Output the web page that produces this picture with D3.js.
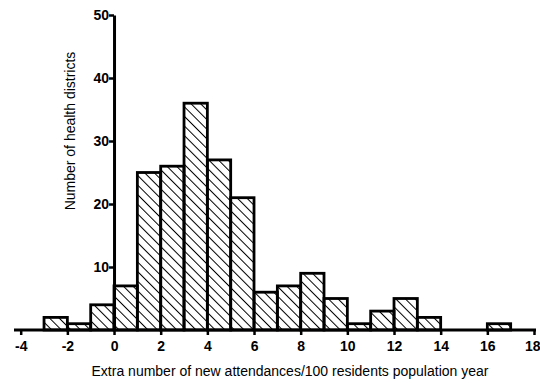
<!DOCTYPE html>
<html>
<head>
<meta charset="utf-8">
<title>Health districts histogram</title>
<script src="https://d3js.org/d3.v7.min.js"></script>
<style>
  body { margin: 0; background: #fff; }
  text { font-family: "Liberation Sans", Arial, sans-serif; fill: #000; }
</style>
</head>
<body>
<div id="chart"></div>
<script>
// bins (left edge, width 1) and counts
var binStart = [-3, -2, -1, 0, 1, 2, 3, 4, 5, 6, 7, 8, 9, 10, 11, 12, 13, 16];
var counts   = [ 2,  1,  4, 7, 25, 26, 36, 27, 21, 6, 7, 9, 5, 1, 3, 5, 2, 1];
var xTicks = [-4, -2, 0, 2, 4, 6, 8, 10, 12, 14, 16, 18];
var yTicks = [10, 20, 30, 40, 50];

var width = 540, height = 383;

var svg = d3.select("#chart").append("svg")
  .attr("width", width)
  .attr("height", height);

// hatch pattern, lines going down to the right
var defs = svg.append("defs");
defs.append("pattern")
  .attr("id", "hatch")
  .attr("patternUnits", "userSpaceOnUse")
  .attr("width", 6.8)
  .attr("height", 6.8)
  .attr("patternTransform", "rotate(-45)")
  .append("line")
    .attr("x1", 0).attr("y1", 0)
    .attr("x2", 0).attr("y2", 6.8)
    .attr("stroke", "#000")
    .attr("stroke-width", 2);

var x = d3.scaleLinear().domain([-4, 18]).range([20.7, 534]);
var y = d3.scaleLinear().domain([0, 50]).range([330, 15]);

// bars
svg.append("g")
  .selectAll("rect")
  .data(binStart)
  .enter()
  .append("rect")
    .attr("x", function(d) { return x(d); })
    .attr("y", function(d, i) { return y(counts[i]); })
    .attr("width", function(d) { return x(d + 1) - x(d); })
    .attr("height", function(d, i) { return y(0) - y(counts[i]); })
    .attr("fill", "url(#hatch)")
    .attr("stroke", "#000")
    .attr("stroke-width", 2.8);

// x axis
var xAxis = svg.append("g")
  .attr("transform", "translate(0," + y(0) + ")")
  .call(d3.axisBottom(x).tickValues(xTicks).tickSize(5).tickSizeOuter(0).tickFormat(d3.format("d")));
xAxis.select(".domain").remove();
xAxis.append("line")
  .attr("x1", 14).attr("x2", 536)
  .attr("stroke", "#000").attr("stroke-width", 3);
xAxis.selectAll(".tick line").attr("stroke-width", 2.5);
xAxis.selectAll(".tick text")
  .attr("dy", "0.95em")
  .style("font-size", "14px")
  .style("font-weight", "bold")
  .text(function(d) { return d < 0 ? "-" + Math.abs(d) : d; });
// last label sits against the right edge
xAxis.selectAll(".tick text").filter(function(d) { return d === 18; })
  .attr("text-anchor", "end")
  .attr("x", 6);

// y axis
var yAxis = svg.append("g")
  .attr("transform", "translate(" + x(0) + ",0)")
  .call(d3.axisLeft(y).tickValues(yTicks).tickSize(5).tickSizeOuter(0));
yAxis.select(".domain").attr("stroke-width", 3);
yAxis.selectAll(".tick line").attr("stroke-width", 2.5);
yAxis.selectAll(".tick text")
  .attr("x", -5)
  .style("font-size", "14px")
  .style("font-weight", "bold");

// titles
svg.append("text")
  .attr("x", 290)
  .attr("y", 376)
  .attr("text-anchor", "middle")
  .style("font-size", "14px")
  .text("Extra number of new attendances/100 residents population year");

svg.append("text")
  .attr("transform", "translate(75,131) rotate(-90)")
  .attr("text-anchor", "middle")
  .style("font-size", "14px")
  .text("Number of health districts");
</script>
</body>
</html>
